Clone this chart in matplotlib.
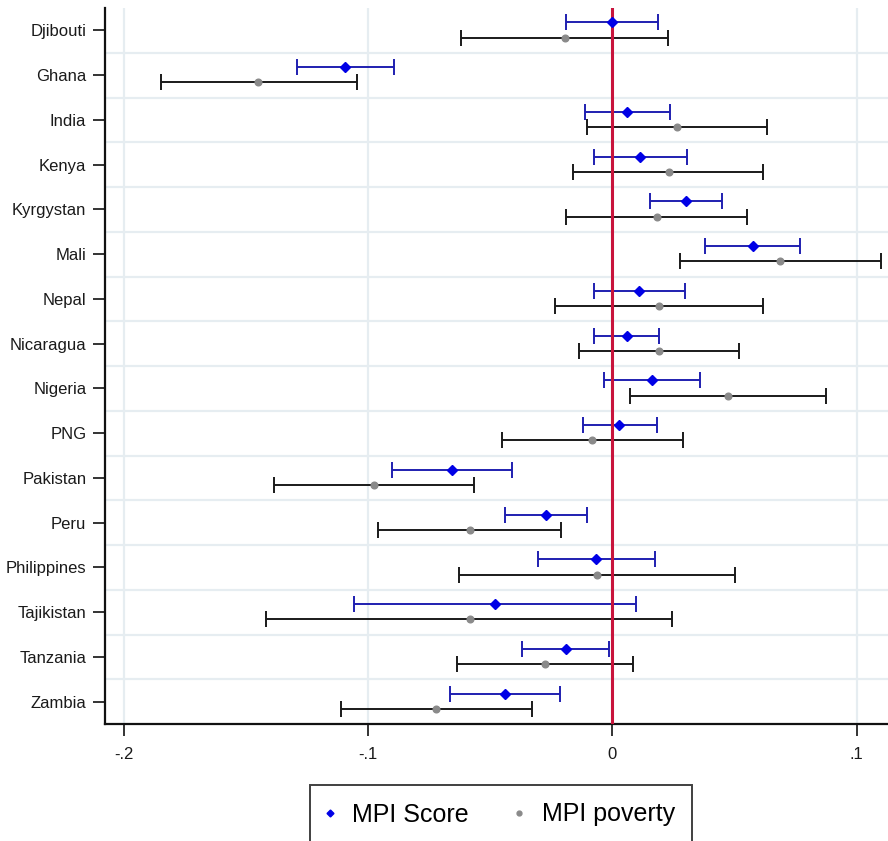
import numpy as np
import matplotlib
matplotlib.use("Agg")
import matplotlib.pyplot as plt
from matplotlib.lines import Line2D

plt.rcParams['font.family'] = ['Liberation Sans Narrow', 'Liberation Sans', 'DejaVu Sans']

# data
countries = ["Djibouti", "Ghana", "India", "Kenya", "Kyrgystan", "Mali", "Nepal",
             "Nicaragua", "Nigeria", "PNG", "Pakistan", "Peru", "Philippines",
             "Tajikistan", "Tanzania", "Zambia"]

score_mid = [0.0, -0.1093, 0.0061, 0.0115, 0.0302, 0.0575, 0.0110, 0.0058,
             0.0161, 0.0029, -0.0656, -0.0272, -0.0065, -0.0481, -0.0191, -0.0441]
score_lo = [-0.0189, -0.1291, -0.0113, -0.0075, 0.0154, 0.0381, -0.0075, -0.0076,
            -0.0036, -0.0122, -0.0902, -0.0441, -0.0304, -0.1058, -0.0370, -0.0667]
score_hi = [0.0189, -0.0896, 0.0235, 0.0306, 0.0450, 0.0770, 0.0296, 0.0191,
            0.0359, 0.0184, -0.0411, -0.0103, 0.0176, 0.0098, -0.0014, -0.0215]

pov_mid = [-0.0194, -0.1450, 0.0266, 0.0230, 0.0182, 0.0687, 0.0191, 0.0191,
           0.0475, -0.0083, -0.0976, -0.0585, -0.0064, -0.0585, -0.0274, -0.0721]
pov_lo = [-0.0619, -0.1850, -0.0104, -0.0160, -0.0190, 0.0276, -0.0233, -0.0135,
          0.0071, -0.0453, -0.1384, -0.0961, -0.0629, -0.1419, -0.0637, -0.1111]
pov_hi = [0.0228, -0.1045, 0.0635, 0.0616, 0.0551, 0.1100, 0.0615, 0.0519,
          0.0877, 0.0288, -0.0565, -0.0210, 0.0503, 0.0246, 0.0085, -0.0330]

xticks = [-0.2, -0.1, 0, 0.1]
xticklabels = ["-.2", "-.1", "0", ".1"]

score_mid = np.array(score_mid)
pov_mid = np.array(pov_mid)
score_err = [score_mid - np.array(score_lo), np.array(score_hi) - score_mid]
pov_err = [pov_mid - np.array(pov_lo), np.array(pov_hi) - pov_mid]

y = np.arange(len(countries))

fig = plt.figure(figsize=(8.88, 8.41), dpi=100)
ax = fig.add_axes([105 / 888, 1 - 724 / 841, 1 - 105 / 888, (724 - 8) / 841])

blue_line = "#1f1fb0"
blue_mark = "#0000e6"
grey_mark = "#8a8a8a"
black_line = "#1a1a1a"

ax.errorbar(score_mid, y - 0.18, xerr=score_err, fmt="none", ecolor=blue_line,
            elinewidth=1.4, capsize=5.5, capthick=1.4, zorder=2)
ax.errorbar(pov_mid, y + 0.16, xerr=pov_err, fmt="none", ecolor=black_line,
            elinewidth=1.4, capsize=5.5, capthick=1.4, zorder=2)
ax.axvline(0, color="#c8143c", lw=2.2, zorder=3)
ax.plot(score_mid, y - 0.18, "D", color=blue_mark, ms=5.5, zorder=4)
ax.plot(pov_mid, y + 0.16, "o", color=grey_mark, ms=4.8, zorder=4)

ax.set_xlim(-0.2078, 0.1129)
ax.set_ylim(len(countries) - 0.5, -0.5)

ax.set_xticks(xticks)
ax.set_xticklabels(xticklabels)
ax.set_yticks(y)
ax.set_yticklabels(countries)
ax.set_yticks(y[:-1] + 0.5, minor=True)
ax.tick_params(axis="y", which="minor", length=0)
ax.tick_params(axis="both", which="major", length=8.5, width=1.2, labelsize=12,
               color="#111111", labelcolor="#1a1a1a")
ax.tick_params(axis="y", pad=5)
ax.tick_params(axis="x", pad=8)

ax.grid(axis="x", which="major", color="#e6edf1", lw=1.6, zorder=0)
ax.grid(axis="y", which="minor", color="#e6edf1", lw=1.6, zorder=0)
ax.set_axisbelow(True)

for s in ["top", "right"]:
    ax.spines[s].set_visible(False)
for s in ["left", "bottom"]:
    ax.spines[s].set_linewidth(1.6)
    ax.spines[s].set_color("#111111")

handles = [Line2D([], [], ls="none", marker="D", color=blue_mark, ms=3.5),
           Line2D([], [], ls="none", marker="o", color=grey_mark, ms=3.5)]
leg = fig.legend(handles, ["MPI Score", "MPI poverty"], ncol=2,
                 loc="upper left", bbox_to_anchor=(310 / 888, 1 - 785 / 841),
                 fontsize=18, frameon=True, fancybox=False, borderpad=0.7,
                 handlelength=0.2, handletextpad=0.8, columnspacing=1.9,
                 borderaxespad=0)
leg.get_frame().set_edgecolor("#111111")
leg.get_frame().set_linewidth(1.4)

fig.savefig("out.png", dpi=100)
